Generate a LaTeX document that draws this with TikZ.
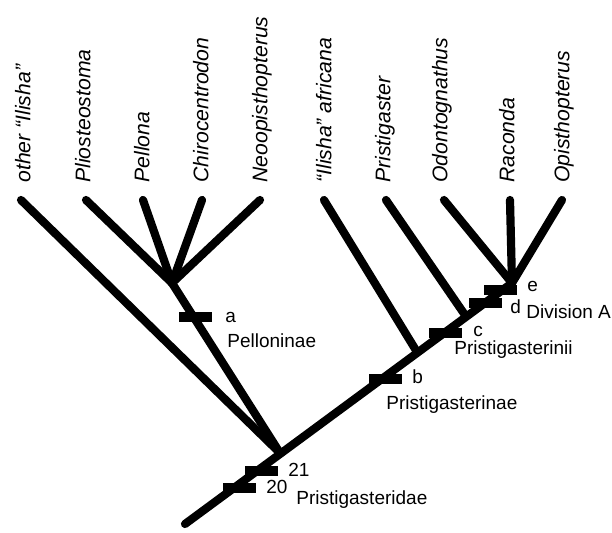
\documentclass[tikz,border=0pt]{standalone}
\usepackage{fontspec}
\setmainfont{Liberation Sans}
\tikzset{
  branch/.style={line width=4.1pt, line cap=round},
  synap/.style={fill=black, minimum width=16.5pt, minimum height=4.6pt, inner sep=0pt},
  taxon/.style={rotate=90, anchor=mid west, inner sep=0pt, font=\fontsize{10.6}{13}\selectfont\itshape},
  clade/.style={anchor=base west, inner sep=0pt, font=\fontsize{9.5}{11}\selectfont}
}
\begin{document}
\begin{tikzpicture}[x=0.5pt, y=-0.5pt]
    \useasboundingbox (0, 0) rectangle (612, 532);
    % internal nodes
    \coordinate (base) at (185, 524);
    \coordinate (root) at (280, 453);
    \coordinate (pell) at (172, 283);
    \coordinate (pris) at (417, 352);
    \coordinate (prisn) at (465, 315);
    \coordinate (divA) at (512, 283);
    % taxa
    \node[taxon] (other) at (25, 183) {other “Ilisha”};
    \node[taxon] (plio) at (85, 183) {Pliosteostoma};
    \node[taxon] (pellona) at (144, 183) {Pellona};
    \node[taxon] (chiro) at (203, 183) {Chirocentrodon};
    \node[taxon] (neoop) at (262, 183) {Neoopisthopterus};
    \node[taxon] (afric) at (326, 183) {“Ilisha” africana};
    \node[taxon] (pristi) at (385, 183) {Pristigaster};
    \node[taxon] (odont) at (442, 183) {Odontognathus};
    \node[taxon] (racon) at (509, 183) {Raconda};
    \node[taxon] (opist) at (564, 183) {Opisthopterus};
    \coordinate (other tip) at (21, 200);
    \coordinate (plio tip) at (86, 200);
    \coordinate (pellona tip) at (143, 200);
    \coordinate (chiro tip) at (202, 200);
    \coordinate (neoop tip) at (260, 200);
    \coordinate (afric tip) at (324, 200);
    \coordinate (pristi tip) at (386, 200);
    \coordinate (odont tip) at (444, 200);
    \coordinate (racon tip) at (510, 200);
    \coordinate (opist tip) at (562, 200);
    % branches
    \draw[branch] (base) -- (divA);
    \draw[branch] (root) -- (other tip);
    \draw[branch] (root) -- (pell);
    \foreach \t in {plio, pellona, chiro, neoop}
        \draw[branch] (pell) -- (\t\space tip);
    \draw[branch] (pris) -- (afric tip);
    \draw[branch] (prisn) -- (pristi tip);
    \foreach \t in {odont, racon, opist}
        \draw[branch] (divA) -- (\t\space tip);
    % synapomorphies
    \node[synap] (syn a) at (195, 317) {};
    \node[synap] (syn b) at (385, 379) {};
    \node[synap] (syn 21) at (261, 471) {};
    \node[synap] (syn 20) at (239, 488) {};
    \node[synap] (syn c) at (445, 333) {};
    \node[synap] (syn d) at (485, 303) {};
    \node[synap] (syn e) at (500, 290) {};
    % clade names
    \node[clade] (lab a) at (225, 322) {a};
    \node[clade] (pelloninae) at (227, 347) {Pelloninae};
    \node[clade] (lab b) at (412, 383) {b};
    \node[clade] (pristigasterinae) at (386, 409) {Pristigasterinae};
    \node[clade] (lab 21) at (288, 476) {21};
    \node[clade] (lab 20) at (266, 493) {20};
    \node[clade] (pristigasteridae) at (296, 504) {Pristigasteridae};
    \node[clade] (lab c) at (473, 336) {c};
    \node[clade] (pristigasterinii) at (454, 354) {Pristigasterinii};
    \node[clade] (lab d) at (510, 313) {d};
    \node[clade] (division) at (526, 318) {Division A};
    \node[clade] (lab e) at (527, 291) {e};
\end{tikzpicture}
\end{document}
